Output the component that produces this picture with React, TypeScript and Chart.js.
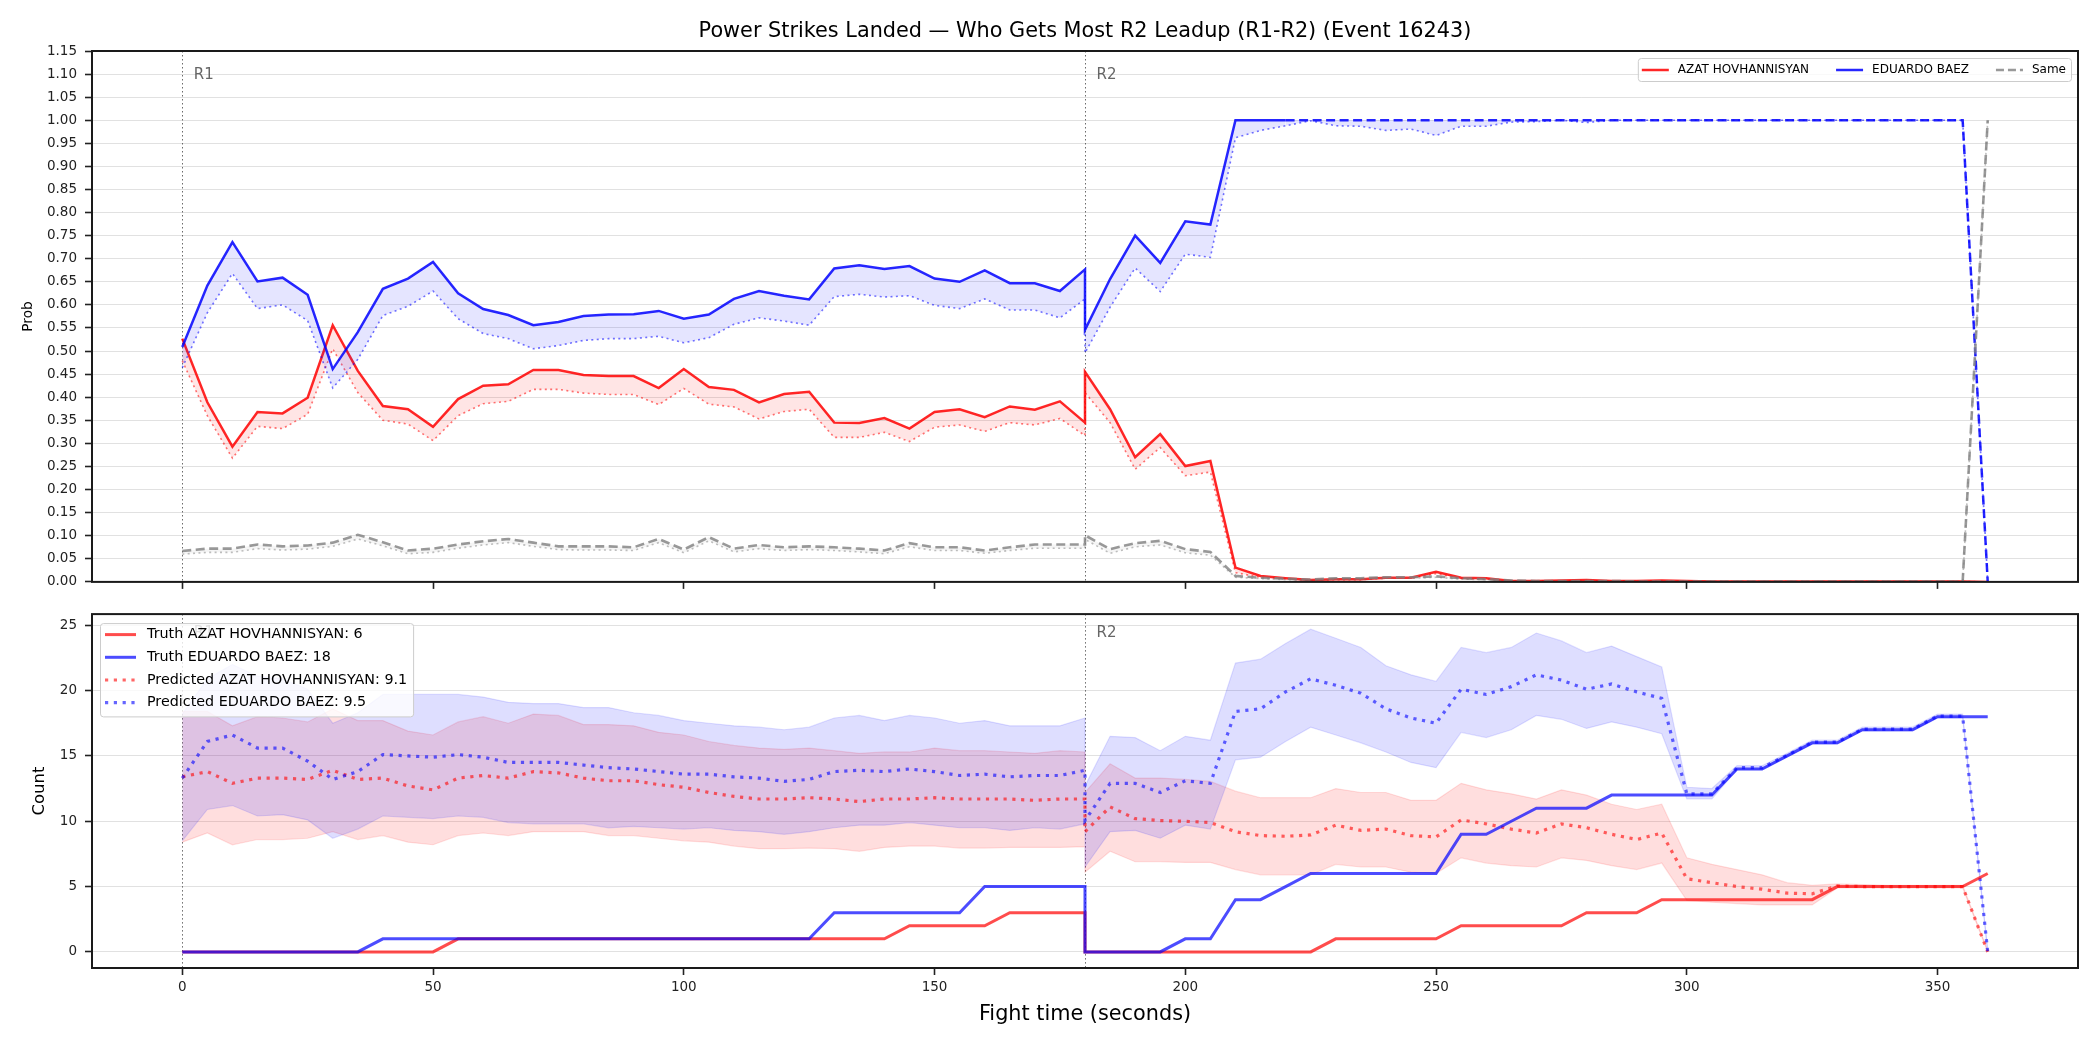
import React, { useEffect, useRef } from "react";
import { Chart, registerables } from "chart.js";

Chart.register(...registerables);

const FONT = '"DejaVu Sans", "Liberation Sans", sans-serif';
Chart.defaults.font.family = FONT;
Chart.defaults.color = "#222";

// ---- time axis (seconds); 180 s appears twice: end of R1 and start of R2 ----
const ROUND1_TIMES = [0, 5, 10, 15, 20, 25, 30, 35, 40, 45, 50, 55, 60, 65, 70, 75, 80, 85, 90, 95, 100, 105, 110, 115, 120, 125, 130, 135, 140, 145, 150, 155, 160, 165, 170, 175, 180];
const ROUND2_TIMES = [180, 185, 190, 195, 200, 205, 210, 215, 220, 225, 230, 235, 240, 245, 250, 255, 260, 265, 270, 275, 280, 285, 290, 295, 300, 305, 310, 315, 320, 325, 330, 335, 340, 345, 350, 355, 360];
const TIMES = [...ROUND1_TIMES, ...ROUND2_TIMES];

const FIGHTER_A = "AZAT HOVHANNISYAN";
const FIGHTER_B = "EDUARDO BAEZ";
const SAME_LABEL = "Same";

const ROUND_STARTS = [0, 180];
const ROUND_NAMES = ["R1", "R2"];

// ---- top panel: probability of who gets most power strikes in the R2 lead-up ----
const AZAT_PROB = [
  0.527, 0.389, 0.293, 0.368, 0.365, 0.399, 0.556, 0.457, 0.381, 0.374, 0.336, 0.396, 0.425, 0.428, 0.459, 0.459, 0.448, 0.446, 0.446, 0.420, 0.461, 0.422, 0.416, 0.389, 0.407, 0.412, 0.345, 0.344, 0.355, 0.332, 0.368, 0.374, 0.357, 0.380, 0.373, 0.391, 0.345,
  0.455, 0.374, 0.270, 0.320, 0.251, 0.262, 0.031, 0.013, 0.008, 0.004, 0.006, 0.006, 0.009, 0.009, 0.022, 0.009, 0.008, 0.002, 0.002, 0.003, 0.004, 0.002, 0.002, 0.003, 0.002, 0.001, 0.001, 0.001, 0.001, 0.001, 0.001, 0.001, 0.001, 0.001, 0.001, 0.001, 0.000,
];
const AZAT_PROB_PRED = [
  0.479, 0.360, 0.268, 0.337, 0.332, 0.363, 0.505, 0.410, 0.350, 0.342, 0.306, 0.360, 0.386, 0.391, 0.417, 0.417, 0.409, 0.406, 0.406, 0.384, 0.419, 0.385, 0.379, 0.353, 0.369, 0.374, 0.313, 0.313, 0.324, 0.304, 0.335, 0.340, 0.326, 0.345, 0.340, 0.354, 0.317,
  0.410, 0.345, 0.244, 0.291, 0.230, 0.238, 0.020, 0.010, 0.007, 0.003, 0.005, 0.005, 0.008, 0.008, 0.018, 0.007, 0.006, 0.002, 0.002, 0.002, 0.003, 0.002, 0.002, 0.002, 0.001, 0.001, 0.001, 0.001, 0.001, 0.001, 0.001, 0.001, 0.001, 0.001, 0.001, 0.001, 0.000,
];
const BAEZ_PROB = [
  0.509, 0.642, 0.736, 0.651, 0.659, 0.622, 0.461, 0.541, 0.635, 0.657, 0.693, 0.625, 0.591, 0.578, 0.556, 0.563, 0.576, 0.579, 0.580, 0.587, 0.570, 0.579, 0.613, 0.630, 0.620, 0.612, 0.679, 0.686, 0.678, 0.684, 0.657, 0.650, 0.675, 0.647, 0.647, 0.630, 0.677,
  0.546, 0.656, 0.750, 0.691, 0.781, 0.774, 1.0, 1.0, 1.0, 1.0, 1.0, 1.0, 1.0, 1.0, 1.0, 1.0, 1.0, 1.0, 1.0, 1.0, 1.0, 1.0, 1.0, 1.0, 1.0, 1.0, 1.0, 1.0, 1.0, 1.0, 1.0, 1.0, 1.0, 1.0, 1.0, 1.0, 0.0,
];
const BAEZ_PROB_PRED = [
  0.464, 0.583, 0.668, 0.592, 0.600, 0.566, 0.420, 0.482, 0.577, 0.597, 0.630, 0.570, 0.538, 0.527, 0.505, 0.512, 0.523, 0.527, 0.527, 0.532, 0.518, 0.529, 0.558, 0.572, 0.565, 0.556, 0.618, 0.623, 0.617, 0.620, 0.599, 0.592, 0.613, 0.589, 0.589, 0.572, 0.613,
  0.496, 0.595, 0.680, 0.629, 0.710, 0.703, 0.962, 0.978, 0.988, 0.999, 0.988, 0.987, 0.978, 0.981, 0.967, 0.987, 0.987, 0.996, 0.997, 1.0, 0.995, 1.0, 1.0, 1.0, 1.0, 1.0, 1.0, 1.0, 1.0, 1.0, 1.0, 1.0, 1.0, 1.0, 1.0, 1.0, 0.0,
];
const SAME_PROB = [
  0.067, 0.072, 0.072, 0.081, 0.077, 0.079, 0.085, 0.102, 0.086, 0.068, 0.072, 0.081, 0.088, 0.093, 0.085, 0.077, 0.077, 0.077, 0.075, 0.093, 0.070, 0.097, 0.072, 0.080, 0.075, 0.077, 0.075, 0.072, 0.068, 0.084, 0.075, 0.075, 0.068, 0.075, 0.081, 0.081, 0.081,
  0.101, 0.071, 0.084, 0.089, 0.071, 0.065, 0.013, 0.009, 0.007, 0.005, 0.008, 0.008, 0.010, 0.010, 0.012, 0.008, 0.006, 0.003, 0.002, 0.002, 0.002, 0.002, 0.001, 0.001, 0.001, 0.001, 0.001, 0.001, 0.001, 0.001, 0.001, 0.001, 0.001, 0.001, 0.001, 0.000, 1.0,
];
const SAME_PROB_PRED = [
  0.060, 0.064, 0.064, 0.072, 0.069, 0.071, 0.077, 0.093, 0.078, 0.061, 0.064, 0.073, 0.080, 0.085, 0.077, 0.070, 0.069, 0.069, 0.068, 0.085, 0.063, 0.089, 0.065, 0.072, 0.068, 0.070, 0.068, 0.065, 0.061, 0.076, 0.068, 0.068, 0.062, 0.068, 0.073, 0.073, 0.073,
  0.092, 0.062, 0.076, 0.080, 0.063, 0.058, 0.010, 0.007, 0.005, 0.004, 0.006, 0.006, 0.008, 0.008, 0.010, 0.006, 0.005, 0.002, 0.001, 0.001, 0.001, 0.001, 0.001, 0.001, 0.001, 0.001, 0.001, 0.001, 0.001, 0.001, 0.001, 0.001, 0.001, 0.001, 0.001, 0.000, 1.0,
];

// ---- bottom panel: cumulative power strikes, truth vs predicted with band ----
const AZAT_TRUTH = [
  0, 0, 0, 0, 0, 0, 0, 0, 0, 0, 0, 1, 1, 1, 1, 1, 1, 1, 1, 1, 1, 1, 1, 1, 1, 1, 1, 1, 1, 2, 2, 2, 2, 3, 3, 3, 3,
  0, 0, 0, 0, 0, 0, 0, 0, 0, 0, 1, 1, 1, 1, 1, 2, 2, 2, 2, 2, 3, 3, 3, 4, 4, 4, 4, 4, 4, 4, 5, 5, 5, 5, 5, 5, 6,
];
const BAEZ_TRUTH = [
  0, 0, 0, 0, 0, 0, 0, 0, 1, 1, 1, 1, 1, 1, 1, 1, 1, 1, 1, 1, 1, 1, 1, 1, 1, 1, 3, 3, 3, 3, 3, 3, 5, 5, 5, 5, 5,
  0, 0, 0, 0, 1, 1, 4, 4, 5, 6, 6, 6, 6, 6, 6, 9, 9, 10, 11, 11, 11, 12, 12, 12, 12, 12, 14, 14, 15, 16, 16, 17, 17, 17, 18, 18, 18,
];
const AZAT_PRED = [
  13.4, 13.8, 12.9, 13.3, 13.3, 13.2, 13.9, 13.2, 13.3, 12.7, 12.4, 13.3, 13.5, 13.3, 13.8, 13.7, 13.3, 13.1, 13.1, 12.8, 12.6, 12.2, 11.9, 11.7, 11.7, 11.8, 11.7, 11.5, 11.7, 11.7, 11.8, 11.7, 11.7, 11.7, 11.6, 11.7, 11.7,
  9.2, 11.1, 10.2, 10.05, 10.0, 9.9, 9.2, 8.9, 8.85, 8.95, 9.7, 9.3, 9.4, 8.9, 8.8, 10.1, 9.8, 9.4, 9.1, 9.8, 9.5, 9.0, 8.6, 9.1, 5.6, 5.3, 5.0, 4.8, 4.5, 4.45, 5.05, 5.0, 5.0, 5.0, 5.0, 5.0, 0.0,
];
const AZAT_UPPER = [
  18.4, 18.4, 17.3, 18.0, 17.9, 17.6, 18.6, 17.7, 17.7, 16.9, 16.6, 17.6, 18.0, 17.5, 18.2, 18.1, 17.4, 17.4, 17.3, 16.8, 16.6, 16.1, 15.8, 15.6, 15.5, 15.6, 15.4, 15.2, 15.3, 15.3, 15.6, 15.4, 15.4, 15.3, 15.2, 15.4, 15.3,
  12.2, 14.4, 13.3, 13.3, 13.2, 13.05, 12.3, 11.8, 11.8, 11.8, 12.5, 12.2, 12.2, 11.6, 11.6, 12.9, 12.4, 12.1, 11.7, 12.4, 12.0, 11.3, 10.9, 11.3, 7.2, 6.7, 6.3, 5.9, 5.3, 5.1, 5.2, 5.15, 5.1, 5.1, 5.1, 5.1, 0.1,
];
const AZAT_LOWER = [
  8.4, 9.1, 8.2, 8.6, 8.6, 8.7, 9.2, 8.6, 8.9, 8.4, 8.2, 8.9, 9.1, 8.9, 9.2, 9.2, 9.2, 8.9, 8.9, 8.7, 8.5, 8.4, 8.1, 7.9, 7.9, 7.95, 7.9, 7.7, 8.0, 8.1, 8.1, 7.95, 7.95, 8.0, 8.0, 8.0, 8.05,
  6.1, 7.7, 6.9, 6.9, 6.85, 6.85, 6.3, 5.9, 5.9, 5.9, 6.7, 6.5, 6.5, 6.1, 6.0, 7.2, 6.8, 6.6, 6.5, 7.2, 7.0, 6.6, 6.3, 6.8, 3.95, 3.8, 3.7, 3.6, 3.6, 3.6, 4.9, 4.9, 4.9, 4.9, 4.9, 4.9, 0.0,
];
const BAEZ_PRED = [
  13.3, 16.1, 16.6, 15.6, 15.6, 14.6, 13.2, 13.8, 15.1, 15.0, 14.9, 15.1, 14.9, 14.5, 14.5, 14.5, 14.3, 14.1, 14.0, 13.8, 13.6, 13.6, 13.4, 13.3, 13.05, 13.2, 13.8, 13.9, 13.8, 14.0, 13.8, 13.5, 13.6, 13.4, 13.5, 13.5, 13.9,
  10.05, 12.9, 12.9, 12.2, 13.1, 12.9, 18.4, 18.6, 19.9, 20.9, 20.4, 19.8, 18.6, 17.9, 17.5, 20.1, 19.7, 20.3, 21.2, 20.8, 20.1, 20.5, 19.9, 19.4, 12.1, 12.1, 14.1, 14.1, 15.05, 16.05, 16.05, 17.05, 17.05, 17.05, 18.05, 18.05, 0.0,
];
const BAEZ_UPPER = [
  18.2, 20.9, 22.0, 21.1, 20.9, 20.1, 17.5, 18.3, 19.7, 19.7, 19.7, 19.7, 19.5, 19.1, 19.0, 19.0, 18.7, 18.7, 18.3, 18.1, 17.7, 17.5, 17.3, 17.2, 17.0, 17.2, 17.9, 18.1, 17.7, 18.1, 17.9, 17.5, 17.7, 17.3, 17.3, 17.3, 17.9,
  12.7, 16.5, 16.4, 15.4, 16.5, 16.2, 22.1, 22.4, 23.6, 24.7, 24.0, 23.3, 21.9, 21.2, 20.7, 23.3, 22.9, 23.3, 24.4, 23.8, 22.9, 23.4, 22.6, 21.8, 12.6, 12.5, 14.25, 14.25, 15.2, 16.2, 16.2, 17.2, 17.2, 17.2, 18.2, 18.2, 0.1,
];
const BAEZ_LOWER = [
  8.5, 10.9, 11.2, 10.4, 10.5, 10.1, 8.7, 9.4, 10.4, 10.3, 10.2, 10.4, 10.3, 9.9, 9.8, 9.8, 9.8, 9.5, 9.6, 9.5, 9.4, 9.5, 9.3, 9.2, 9.0, 9.2, 9.5, 9.7, 9.7, 9.9, 9.7, 9.5, 9.5, 9.3, 9.5, 9.4, 9.8,
  6.5, 9.2, 9.3, 8.7, 9.7, 9.4, 14.7, 14.9, 16.1, 17.2, 16.6, 16.0, 15.3, 14.5, 14.1, 16.8, 16.4, 17.0, 18.1, 17.8, 17.1, 17.6, 17.2, 16.7, 11.7, 11.7, 13.95, 13.95, 14.9, 15.9, 15.9, 16.9, 16.9, 16.9, 17.9, 17.9, 0.0,
];
const PREDICTED_TOTALS = [9.1, 9.5];

// ---- axis ticks ----
const X_TICKS = [0, 50, 100, 150, 200, 250, 300, 350];
const PROB_TICKS = [0, 0.05, 0.1, 0.15, 0.2, 0.25, 0.3, 0.35, 0.4, 0.45, 0.5, 0.55, 0.6, 0.65, 0.7, 0.75, 0.8, 0.85, 0.9, 0.95, 1.0, 1.05, 1.1, 1.15];
const COUNT_TICKS = [0, 5, 10, 15, 20, 25];

const TITLE = "Power Strikes Landed — Who Gets Most R2 Leadup (R1-R2) (Event 16243)";
const X_TITLE = "Fight time (seconds)";

// ---- styles ----
const RED = "rgba(255,0,0,0.85)";
const BLUE = "rgba(0,0,255,0.85)";
const GREY = "rgba(128,128,128,0.8)";
const DOTS_THIN = [2, 3.4];
const DASHES = [9, 4.5];
const DOTS_THICK = [3.2, 5.6];
const BAEZ_DASHED_FROM = 220;

const pts = (vals: number[]) => TIMES.map((t, i) => ({ x: t, y: vals[i] }));

const font = (size: number) => `${size}px ${FONT}`;

type Handle = { color: string; width: number; dash: number[] };

function drawHandle(ctx: CanvasRenderingContext2D, x0: number, x1: number, y: number, h: Handle) {
  ctx.save();
  ctx.strokeStyle = h.color;
  ctx.lineWidth = h.width;
  ctx.setLineDash(h.dash);
  ctx.lineCap = "butt";
  ctx.beginPath();
  ctx.moveTo(x0, y);
  ctx.lineTo(x1, y);
  ctx.stroke();
  ctx.restore();
}

function drawBox(ctx: CanvasRenderingContext2D, x: number, y: number, w: number, h: number) {
  ctx.save();
  ctx.beginPath();
  (ctx as any).roundRect(x + 0.5, y + 0.5, w, h, 3);
  ctx.fillStyle = "rgba(255,255,255,0.8)";
  ctx.fill();
  ctx.strokeStyle = "#cccccc";
  ctx.lineWidth = 1;
  ctx.stroke();
  ctx.restore();
}

type DecorSpec = {
  title?: string;
  yTitle: string;
  yTitleX: number;
  yTitleSize: number;
  xTitle?: string;
  xTitleY?: number;
  drawLegend: (ctx: CanvasRenderingContext2D, area: any) => void;
};

function decor(spec: DecorSpec) {
  return {
    id: "decor",
    beforeDatasetsDraw(chart: any) {
      const { ctx, chartArea: a, scales } = chart;
      ctx.save();
      ctx.strokeStyle = "rgba(70,70,70,0.8)";
      ctx.lineWidth = 1;
      ctx.setLineDash([1.5, 2.5]);
      for (const t of ROUND_STARTS) {
        const x = Math.round(scales.x.getPixelForValue(t)) + 0.5;
        ctx.beginPath();
        ctx.moveTo(x, a.top);
        ctx.lineTo(x, a.bottom);
        ctx.stroke();
      }
      ctx.restore();
    },
    afterDraw(chart: any) {
      const { ctx, chartArea: a, scales } = chart;
      ctx.save();
      // round labels
      ctx.font = font(15);
      ctx.fillStyle = "rgba(85,85,85,0.9)";
      ctx.textAlign = "left";
      ctx.textBaseline = "middle";
      const labelY = a.top + 0.03 * (a.bottom - a.top) + 8;
      ROUND_STARTS.forEach((t, i) => {
        ctx.fillText(ROUND_NAMES[i], scales.x.getPixelForValue(t) + 11.5, labelY);
      });
      // frame
      ctx.strokeStyle = "#1a1a1a";
      ctx.lineWidth = 2;
      ctx.strokeRect(a.left, a.top, a.right - a.left, a.bottom - a.top);
      ctx.restore();

      spec.drawLegend(ctx, a);

      ctx.save();
      ctx.fillStyle = "#000";
      ctx.textAlign = "center";
      if (spec.title) {
        ctx.font = font(20.8);
        ctx.textBaseline = "alphabetic";
        ctx.fillText(spec.title, (a.left + a.right) / 2, 37);
      }
      if (spec.xTitle) {
        ctx.font = font(20.8);
        ctx.textBaseline = "middle";
        ctx.fillText(spec.xTitle, (a.left + a.right) / 2, spec.xTitleY!);
      }
      ctx.translate(spec.yTitleX, (a.top + a.bottom) / 2);
      ctx.rotate(-Math.PI / 2);
      ctx.font = font(spec.yTitleSize);
      ctx.textBaseline = "middle";
      ctx.fillText(spec.yTitle, 0, 0);
      ctx.restore();
    },
  };
}

function xScale(showLabels: boolean, height: number) {
  return {
    type: "linear",
    min: -18,
    max: 378,
    afterBuildTicks: (s: any) => {
      s.ticks = X_TICKS.map((v) => ({ value: v }));
    },
    afterFit: (s: any) => {
      s.height = height;
    },
    ticks: {
      display: showLabels,
      autoSkip: false,
      maxRotation: 0,
      padding: 4,
      color: "#222",
      font: { size: 13.5, family: FONT },
      callback: (v: any) => String(v),
    },
    grid: { display: true, drawOnChartArea: false, drawTicks: true, tickLength: 7, tickColor: "#222", tickWidth: 1.6 },
    border: { display: false },
  };
}

function yScale(min: number, max: number, ticks: number[], fmt: (v: number) => string) {
  return {
    type: "linear",
    min,
    max,
    afterBuildTicks: (s: any) => {
      s.ticks = ticks.map((v) => ({ value: v }));
    },
    afterFit: (s: any) => {
      s.width = 92;
    },
    ticks: {
      autoSkip: false,
      padding: 8,
      color: "#222",
      font: { size: 13.5, family: FONT },
      callback: (v: any) => fmt(Number(v)),
    },
    grid: { color: "rgba(176,176,176,0.38)", lineWidth: 1, drawTicks: true, tickLength: 7, tickColor: "#222", tickWidth: 1.6 },
    border: { display: false },
  };
}

const lineBase = { pointRadius: 0, pointHoverRadius: 0, tension: 0, borderCapStyle: "butt" };

function topLegend(ctx: CanvasRenderingContext2D, a: any) {
  const items: { label: string; h: Handle }[] = [
    { label: FIGHTER_A, h: { color: RED, width: 2.5, dash: [] } },
    { label: FIGHTER_B, h: { color: BLUE, width: 2.5, dash: [] } },
    { label: SAME_LABEL, h: { color: GREY, width: 2.5, dash: [8, 4] } },
  ];
  ctx.save();
  ctx.font = font(12);
  const handleLen = 27;
  const gap = 9;
  const colGap = 27;
  const widths = items.map((it) => ctx.measureText(it.label).width);
  const total = 4 + widths.reduce((s, w) => s + handleLen + gap + w, 0) + colGap * (items.length - 1) + 5;
  const right = a.right - 7;
  const left = right - total;
  const top = a.top + 7;
  const h = 23;
  drawBox(ctx, left, top, total, h);
  let x = left + 4;
  const cy = top + h / 2 + 0.5;
  items.forEach((it, i) => {
    drawHandle(ctx, x, x + handleLen, cy, it.h);
    x += handleLen + gap;
    ctx.fillStyle = "#000";
    ctx.textAlign = "left";
    ctx.textBaseline = "middle";
    ctx.fillText(it.label, x, cy);
    x += widths[i] + colGap;
  });
  ctx.restore();
}

function bottomLegend(ctx: CanvasRenderingContext2D, a: any) {
  const items: { label: string; h: Handle }[] = [
    { label: `Truth ${FIGHTER_A}: ${AZAT_TRUTH[AZAT_TRUTH.length - 1]}`, h: { color: "rgba(255,0,0,0.7)", width: 3, dash: [] } },
    { label: `Truth ${FIGHTER_B}: ${BAEZ_TRUTH[BAEZ_TRUTH.length - 1]}`, h: { color: "rgba(0,0,255,0.7)", width: 3, dash: [] } },
    { label: `Predicted ${FIGHTER_A}: ${PREDICTED_TOTALS[0]}`, h: { color: "rgba(255,0,0,0.6)", width: 3.2, dash: DOTS_THICK } },
    { label: `Predicted ${FIGHTER_B}: ${PREDICTED_TOTALS[1]}`, h: { color: "rgba(0,0,255,0.6)", width: 3.2, dash: DOTS_THICK } },
  ];
  ctx.save();
  ctx.font = font(14.3);
  const widths = items.map((it) => ctx.measureText(it.label).width);
  const left = a.left + 8;
  const top = a.top + 9;
  const rowH = 22.7;
  const w = 47 + Math.max(...widths) + 6;
  const h = rowH * items.length + 2.5;
  drawBox(ctx, left, top, w, h);
  items.forEach((it, i) => {
    const cy = top + 11.5 + i * rowH;
    drawHandle(ctx, left + 5, left + 36, cy, it.h);
    ctx.fillStyle = "#000";
    ctx.textAlign = "left";
    ctx.textBaseline = "middle";
    ctx.fillText(it.label, left + 47, cy);
  });
  ctx.restore();
}

function topConfig(): any {
  return {
    type: "line",
    data: {
      datasets: [
        { ...lineBase, label: SAME_LABEL, data: pts(SAME_PROB), borderColor: GREY, borderWidth: 2.6, borderDash: DASHES, fill: "+1", backgroundColor: "rgba(128,128,128,0.08)" },
        { ...lineBase, label: "same predicted", data: pts(SAME_PROB_PRED), borderColor: "rgba(128,128,128,0.5)", borderWidth: 1.6, borderDash: DOTS_THIN, fill: false },
        {
          ...lineBase,
          label: FIGHTER_B,
          data: pts(BAEZ_PROB),
          borderColor: BLUE,
          borderWidth: 2.5,
          fill: "+1",
          backgroundColor: "rgba(0,0,255,0.1)",
          segment: { borderDash: (c: any) => (c.p0.parsed.x >= BAEZ_DASHED_FROM ? DASHES : undefined) },
        },
        { ...lineBase, label: "baez predicted", data: pts(BAEZ_PROB_PRED), borderColor: "rgba(0,0,255,0.55)", borderWidth: 1.6, borderDash: DOTS_THIN, fill: false },
        { ...lineBase, label: FIGHTER_A, data: pts(AZAT_PROB), borderColor: RED, borderWidth: 2.5, fill: "+1", backgroundColor: "rgba(255,0,0,0.1)" },
        { ...lineBase, label: "azat predicted", data: pts(AZAT_PROB_PRED), borderColor: "rgba(255,0,0,0.55)", borderWidth: 1.6, borderDash: DOTS_THIN, fill: false },
      ],
    },
    options: {
      responsive: false,
      maintainAspectRatio: false,
      animation: false,
      devicePixelRatio: 1,
      events: [],
      layout: { padding: { left: 0, right: 22, top: 51, bottom: 0 } },
      plugins: { legend: { display: false }, title: { display: false }, tooltip: { enabled: false } },
      scales: {
        x: xScale(false, 15),
        y: yScale(0, 1.15, PROB_TICKS, (v) => v.toFixed(2)),
      },
    },
    plugins: [decor({ title: TITLE, yTitle: "Prob", yTitleX: 28, yTitleSize: 13.7, drawLegend: topLegend })],
  };
}

function bottomConfig(): any {
  return {
    type: "line",
    data: {
      datasets: [
        { ...lineBase, label: "truth baez", data: pts(BAEZ_TRUTH), borderColor: "rgba(0,0,255,0.7)", borderWidth: 3, fill: false },
        { ...lineBase, label: "truth azat", data: pts(AZAT_TRUTH), borderColor: "rgba(255,0,0,0.7)", borderWidth: 3, fill: false },
        { ...lineBase, label: "pred baez", data: pts(BAEZ_PRED), borderColor: "rgba(0,0,255,0.6)", borderWidth: 3.2, borderDash: DOTS_THICK, fill: false },
        { ...lineBase, label: "pred azat", data: pts(AZAT_PRED), borderColor: "rgba(255,0,0,0.6)", borderWidth: 3.2, borderDash: DOTS_THICK, fill: false },
        { ...lineBase, label: "baez hi", data: pts(BAEZ_UPPER), borderColor: "rgba(0,0,255,0.12)", borderWidth: 1.2, fill: "+1", backgroundColor: "rgba(0,0,255,0.13)" },
        { ...lineBase, label: "baez lo", data: pts(BAEZ_LOWER), borderColor: "rgba(0,0,255,0.12)", borderWidth: 1.2, fill: false },
        { ...lineBase, label: "azat hi", data: pts(AZAT_UPPER), borderColor: "rgba(255,0,0,0.12)", borderWidth: 1.2, fill: "+1", backgroundColor: "rgba(255,0,0,0.13)" },
        { ...lineBase, label: "azat lo", data: pts(AZAT_LOWER), borderColor: "rgba(255,0,0,0.12)", borderWidth: 1.2, fill: false },
      ],
    },
    options: {
      responsive: false,
      maintainAspectRatio: false,
      animation: false,
      devicePixelRatio: 1,
      events: [],
      layout: { padding: { left: 0, right: 22, top: 15, bottom: 0 } },
      plugins: { legend: { display: false }, title: { display: false }, tooltip: { enabled: false } },
      scales: {
        x: xScale(true, 82),
        y: yScale(-1.23, 25.85, COUNT_TICKS, (v) => String(v)),
      },
    },
    plugins: [decor({ yTitle: "Count", yTitleX: 40, yTitleSize: 16.5, xTitle: X_TITLE, xTitleY: 417, drawLegend: bottomLegend })],
  };
}

export default function App() {
  const topRef = useRef<HTMLCanvasElement>(null);
  const bottomRef = useRef<HTMLCanvasElement>(null);

  useEffect(() => {
    const top = new Chart(topRef.current!, topConfig());
    const bottom = new Chart(bottomRef.current!, bottomConfig());
    return () => {
      top.destroy();
      bottom.destroy();
    };
  }, []);

  return (
    <div style={{ position: "fixed", left: 0, top: 0, width: 2100, height: 1050, background: "#fff" }}>
      <canvas ref={topRef} width={2100} height={598} style={{ position: "absolute", left: 0, top: 0, width: 2100, height: 598 }} />
      <canvas ref={bottomRef} width={2100} height={452} style={{ position: "absolute", left: 0, top: 598, width: 2100, height: 452 }} />
    </div>
  );
}
